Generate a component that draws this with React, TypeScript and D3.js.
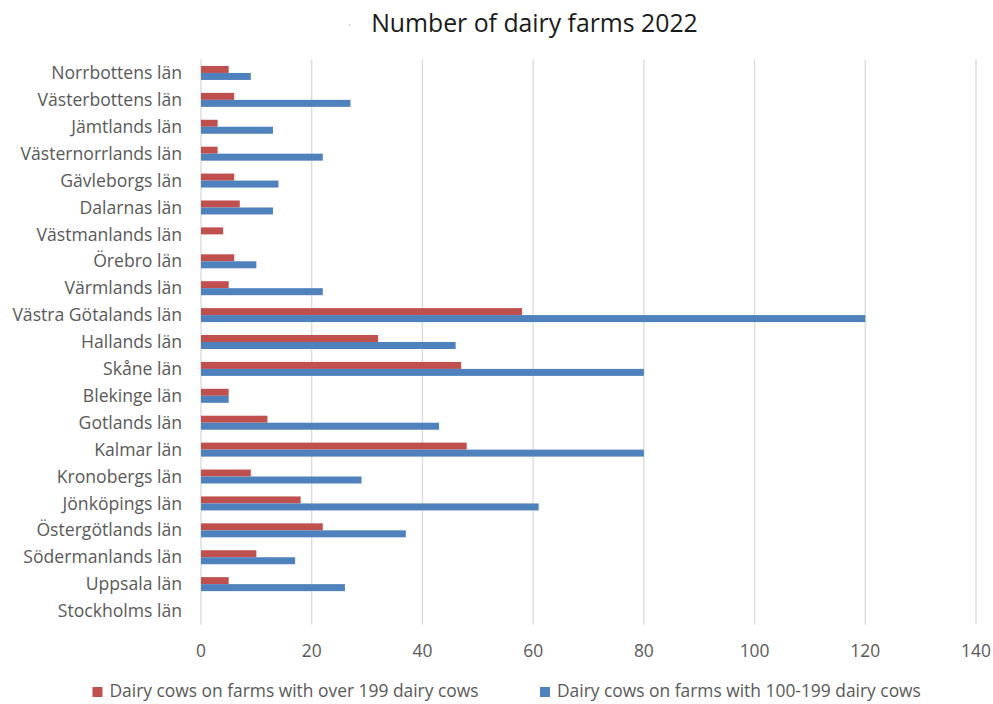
import React from "react";
import * as d3 from "d3";

const categories = [
  "Norrbottens län",
  "Västerbottens län",
  "Jämtlands län",
  "Västernorrlands län",
  "Gävleborgs län",
  "Dalarnas län",
  "Västmanlands län",
  "Örebro län",
  "Värmlands län",
  "Västra Götalands län",
  "Hallands län",
  "Skåne län",
  "Blekinge län",
  "Gotlands län",
  "Kalmar län",
  "Kronobergs län",
  "Jönköpings län",
  "Östergötlands län",
  "Södermanlands län",
  "Uppsala län",
  "Stockholms län",
];

const over199 = [5, 6, 3, 3, 6, 7, 4, 6, 5, 58, 32, 47, 5, 12, 48, 9, 18, 22, 10, 5, 0];
const from100to199 = [9, 27, 13, 22, 14, 13, 0, 10, 22, 120, 46, 80, 5, 43, 80, 29, 61, 37, 17, 26, 0];

const seriesNames = [
  "Dairy cows on farms with over 199 dairy cows",
  "Dairy cows on farms with 100-199 dairy cows",
];
const seriesColors = ["#c0504d", "#4f81bd"];
const xTicks = [0, 20, 40, 60, 80, 100, 120, 140];

const W = 993;
const H = 704;
const FONT = "'Open Sans', 'Noto Sans', sans-serif";

export default function App() {
  const left = 201;
  const right = 976;
  const top = 59.5;
  const bottom = 624.5;

  const x = d3.scaleLinear().domain([0, 140]).range([left, right]);
  const y = d3
    .scaleBand<string>()
    .domain(categories)
    .range([top, bottom])
    .paddingInner(0.48)
    .paddingOuter(0.24);
  const inner = d3
    .scaleBand<string>()
    .domain(["a", "b"])
    .range([0, y.bandwidth()]);

  const seriesData = [over199, from100to199];
  const keys = ["a", "b"];

  return (
    <svg
      width={W}
      height={H}
      style={{ position: "absolute", left: 0, top: 0, background: "#fff" }}
      fontFamily={FONT}
    >
      <rect x={0} y={0} width={W} height={H} fill="#fff" />
      {/* title */}
      <text x={348} y={30} fontSize={12} fill="#bbb">
        ·
      </text>
      <text
        x={534.5}
        y={32}
        textAnchor="middle"
        fontSize={24.8}
        fill="#1a1a1a"
      >
        Number of dairy farms 2022
      </text>

      {/* gridlines */}
      {xTicks.map((t) => (
        <line
          key={t}
          x1={x(t)}
          x2={x(t)}
          y1={top}
          y2={bottom}
          stroke="#d9d9d9"
          strokeWidth={1.3}
        />
      ))}

      {/* bars */}
      {seriesData.map((vals, si) =>
        vals.map((v, i) => (
          <rect
            key={`${si}-${i}`}
            x={x(0)}
            y={(y(categories[i]) as number) + (inner(keys[si]) as number)}
            width={x(v) - x(0)}
            height={inner.bandwidth()}
            fill={seriesColors[si]}
          />
        ))
      )}

      {/* category labels */}
      {categories.map((c) => (
        <text
          key={c}
          x={182}
          y={(y(c) as number) + y.bandwidth() / 2}
          dy="0.35em"
          textAnchor="end"
          fontSize={17.6}
          fill="#595959"
        >
          {c}
        </text>
      ))}

      {/* x tick labels */}
      {xTicks.map((t) => (
        <text
          key={t}
          x={x(t)}
          y={650.5}
          dy="0.35em"
          textAnchor="middle"
          fontSize={17.4}
          fill="#595959"
        >
          {t}
        </text>
      ))}

      {/* legend */}
      {seriesNames.map((n, i) => {
        const lx = i === 0 ? 92.5 : 540;
        return (
          <g key={n}>
            <rect x={lx} y={687} width={10} height={10} fill={seriesColors[i]} />
            <text x={lx + 17} y={691} dy="0.35em" fontSize={17.4} fill="#595959">
              {n}
            </text>
          </g>
        );
      })}
    </svg>
  );
}
